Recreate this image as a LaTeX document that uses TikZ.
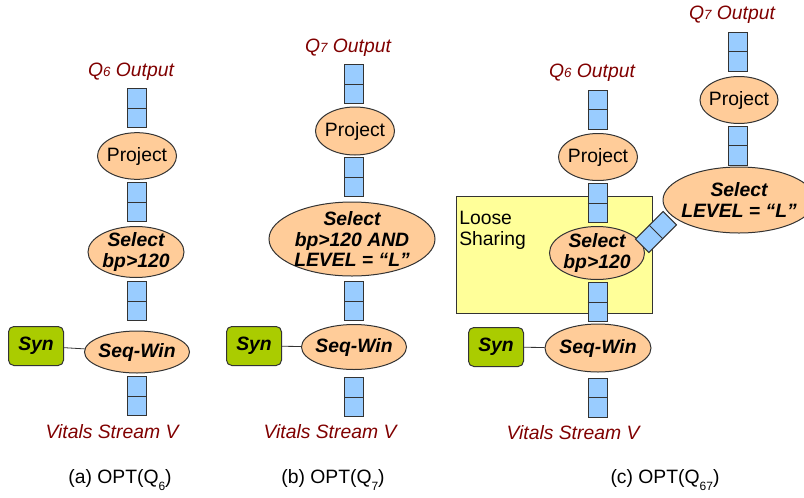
\documentclass[tikz,border=0pt]{standalone}
\usepackage{fontspec}
\setmainfont{Liberation Sans}
\usetikzlibrary{shapes.geometric}

\definecolor{opfill}{HTML}{FFCC99}
\definecolor{buffill}{HTML}{99CCFF}
\definecolor{synfill}{HTML}{AACC00}
\definecolor{loosefill}{HTML}{FFFF99}
\definecolor{lblred}{HTML}{800000}
\definecolor{edgegray}{HTML}{333333}

\tikzset{
  op/.style={ellipse, draw=edgegray, fill=opfill, line width=0.75pt, inner sep=0pt,
    label={[align=center, inner sep=0pt]center:{#1}}},
  buf/.style={rectangle, draw=edgegray, fill=buffill, line width=0.75pt, inner sep=0pt,
    minimum width=14.25pt, minimum height=29.25pt},
  synbox/.style={rectangle, rounded corners=4pt, draw=edgegray, fill=synfill, line width=0.75pt,
    minimum width=41.25pt, minimum height=29.25pt, inner sep=0pt, font=\bfseries\itshape},
  lbl/.style={text=lblred, font=\itshape, inner sep=0pt},
  link/.style={draw=edgegray, line width=0.6pt},
}
\newcommand{\bi}{\bfseries\itshape}
\newcommand{\qsub}[1]{{\fontsize{10}{10}\selectfont #1}}
\newcommand{\capsub}[1]{\raisebox{-0.7ex}{\fontsize{9}{9}\selectfont #1}}

\begin{document}
\fontsize{14.5}{15.5}\selectfont
\begin{tikzpicture}[x=0.75pt, y=-0.75pt]
  \useasboundingbox (0,0) rectangle (804,497);

  % (a) OPT(Q6)
  \node[lbl] (qoutA) at (131,72) {Q\qsub{6} Output};
  \node[buf] (a1) at (137,108) {};
  \node[op={Project}, minimum width=59.25pt, minimum height=35pt] (projA) at (137,156) {};
  \node[buf] (a2) at (137,202) {};
  \node[op={\bi Select\\\bi bp>120}, minimum width=72pt, minimum height=38.25pt] (selA) at (136,252) {};
  \node[buf] (a3) at (137,301) {};
  \node[op={\bi Seq-Win}, minimum width=78.75pt, minimum height=31.5pt] (swA) at (137,352) {};
  \node[synbox] (synA) at (36,346) {Syn};
  \node[buf] (a4) at (137,396) {};
  \node[lbl] (inA) at (112,432) {Vitals Stream V};
  \node (capA) at (120,480) {(a) OPT(Q\capsub{6})};
  \draw[link] (synA) -- (swA);

  % (b) OPT(Q7)
  \node[lbl] (qoutB) at (348,48) {Q\qsub{7} Output};
  \node[buf] (b1) at (354,84) {};
  \node[op={Project}, minimum width=59.25pt, minimum height=36pt] (projB) at (355,131) {};
  \node[buf] (b2) at (354,177) {};
  \node[op={\bi Select\\\bi bp>120 AND\\\bi LEVEL = “L”}, minimum width=124.5pt, minimum height=55.5pt] (selB) at (352,239) {};
  \node[buf] (b3) at (354,301) {};
  \node[op={\bi Seq-Win}, minimum width=78.75pt, minimum height=33.75pt] (swB) at (354,347) {};
  \node[synbox] (synB) at (254,346) {Syn};
  \node[buf] (b4) at (354,397) {};
  \node[lbl] (inB) at (330,432) {Vitals Stream V};
  \node (capB) at (333,480) {(b) OPT(Q\capsub{7})};
  \draw[link] (synB) -- (swB);

  % (c) OPT(Q67)
  \filldraw[fill=loosefill, draw=edgegray, line width=0.75pt] (456,196) rectangle (652,313);
  \node[align=left, anchor=north west, inner sep=0pt] (loose) at (459,211) {Loose\\Sharing};
  \node[lbl] (qoutC) at (592,73) {Q\qsub{6} Output};
  \node[buf] (c1) at (597.5,109.5) {};
  \node[op={Project}, minimum width=59.25pt, minimum height=35.25pt] (projC) at (598,157) {};
  \node[buf] (c2) at (597.5,203) {};
  \node[op={\bi Select\\\bi bp>120}, minimum width=71.25pt, minimum height=39.75pt] (selC) at (597,253) {};
  \node[buf] (c3) at (597.5,302) {};
  \node[op={\bi Seq-Win}, minimum width=79.5pt, minimum height=36pt] (swC) at (598,348) {};
  \node[synbox] (synC) at (496,347) {Syn};
  \node[buf] (c4) at (597.5,397.5) {};
  \node[lbl] (inC) at (573,433) {Vitals Stream V};
  \node (capC) at (665,480) {(c) OPT(Q\capsub{67})};
  \draw[link] (synC) -- (swC);
  % Q7 branch
  \node[lbl] (qoutD) at (732,15) {Q\qsub{7} Output};
  \node[buf] (d1) at (738,51.5) {};
  \node[op={Project}, minimum width=58.5pt, minimum height=35.25pt] (projD) at (739,100) {};
  \node[buf] (d2) at (738,145.5) {};
  \node[op={\bi Select\\\bi LEVEL = “L”}, minimum width=114pt, minimum height=49.5pt] (selD) at (739,200) {};
  \node[buf, rotate=-45] (cd) at (656,232) {};

  % middle lines of the buffers
  \foreach \b in {a1,a2,a3,a4,b1,b2,b3,b4,c1,c2,c3,c4,d1,d2,cd}
    \draw[link] (\b.west) -- (\b.east);
\end{tikzpicture}
\end{document}
